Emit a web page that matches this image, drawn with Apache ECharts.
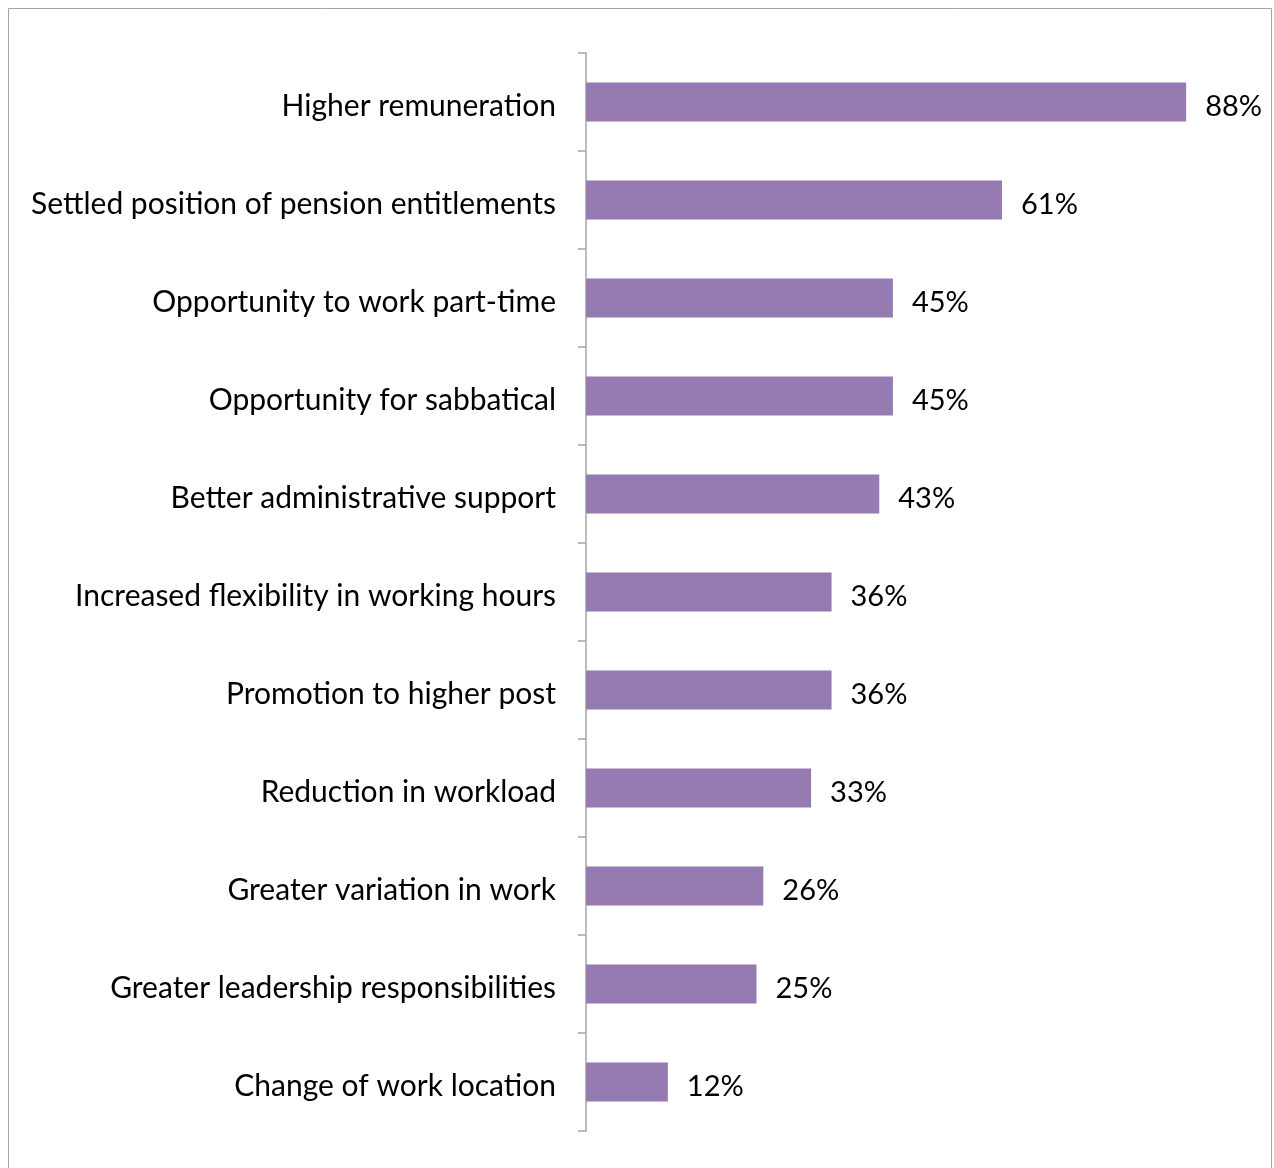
<!DOCTYPE html>
<html>
<head>
<meta charset="utf-8">
<script src="https://cdn.jsdelivr.net/npm/echarts@6/dist/echarts.min.js"></script>
<style>
  html, body { margin: 0; padding: 0; background: #fff; }
  #chart { width: 1274px; height: 1168px; }
</style>
</head>
<body>
<div id="chart"></div>
<script>
// Reasons listed, top to bottom
const categories = [
  'Higher remuneration',
  'Settled position of pension entitlements',
  'Opportunity to work part-time',
  'Opportunity for sabbatical',
  'Better administrative support',
  'Increased flexibility in working hours',
  'Promotion to higher post',
  'Reduction in workload',
  'Greater variation in work',
  'Greater leadership responsibilities',
  'Change of work location'
];
// Share of respondents (%)
const shares = [88, 61, 45, 45, 43, 36, 36, 33, 26, 25, 12];

const FONT = 'Lato, "Open Sans", sans-serif';

const chart = echarts.init(document.getElementById('chart'), null, { renderer: 'canvas' });
chart.setOption({
  animation: false,
  backgroundColor: '#ffffff',
  graphic: [{
    type: 'rect',
    shape: { x: 8.5, y: 8.5, width: 1263, height: 1200 },
    style: { fill: 'none', stroke: '#a6a6a6', lineWidth: 1 },
    silent: true
  }],
  grid: { left: 586, top: 53, width: 682, height: 1078, containLabel: false },
  xAxis: {
    type: 'value',
    min: 0,
    max: 100,
    show: false
  },
  yAxis: {
    type: 'category',
    inverse: true,
    data: categories,
    axisLine: { show: true, lineStyle: { color: '#a6a6a6', width: 1.5 } },
    axisTick: { show: true, length: 8, lineStyle: { color: '#a6a6a6', width: 1.5 } },
    axisLabel: {
      color: '#000', fontFamily: FONT, fontSize: 30, margin: 30,
      verticalAlign: 'top', lineHeight: 9
    },
    splitLine: { show: false }
  },
  series: [{
    type: 'bar',
    data: shares,
    barWidth: 39,
    itemStyle: { color: '#957bb1' },
    label: {
      show: true,
      position: 'right',
      distance: 19,
      formatter: '{c}%',
      color: '#000',
      fontFamily: FONT,
      fontSize: 29,
      verticalAlign: 'top',
      lineHeight: 9
    }
  }]
});
</script>
</body>
</html>
